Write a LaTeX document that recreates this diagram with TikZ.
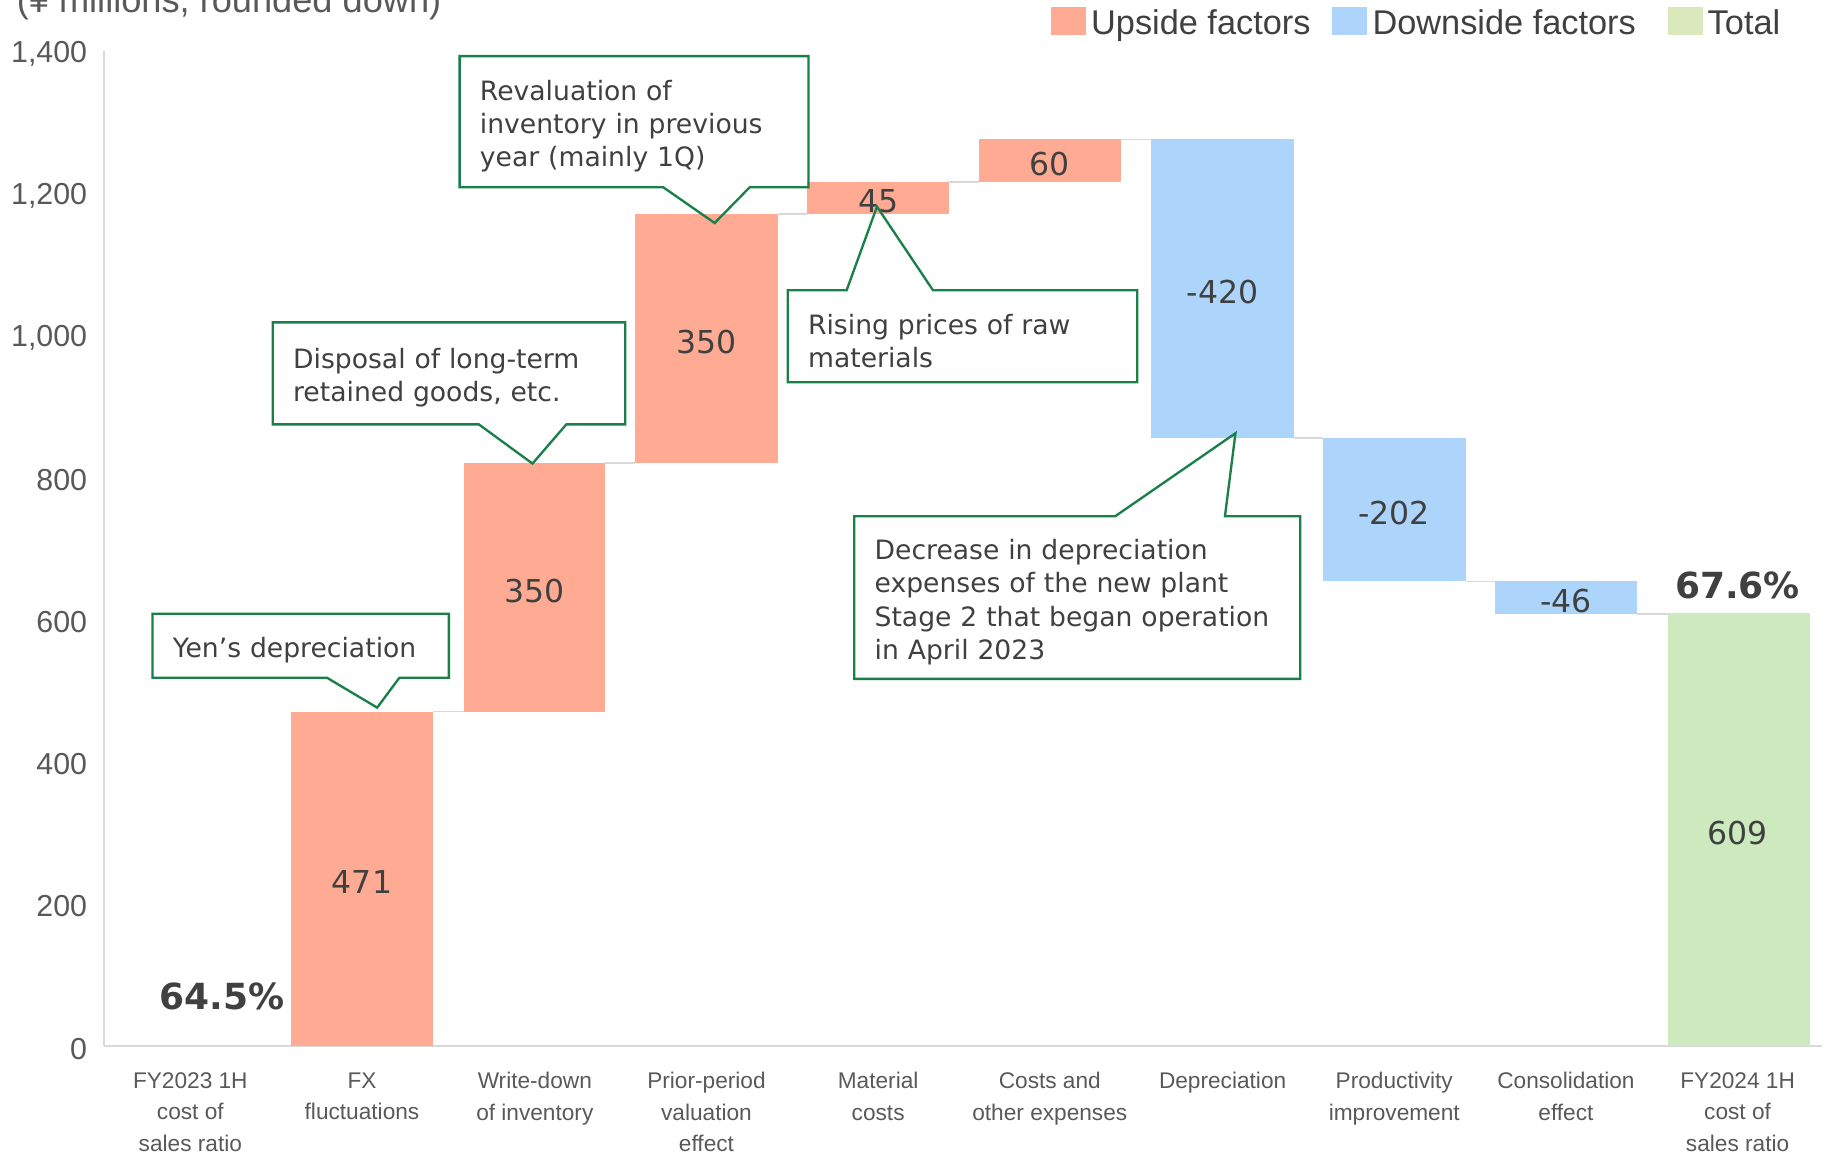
\documentclass[tikz,border=0pt]{standalone}
\usepackage{fontspec}
\setmainfont{DejaVu Sans}
\newfontfamily\chartsans{Liberation Sans}
\definecolor{upcol}{RGB}{255,171,148}
\definecolor{downcol}{RGB}{173,213,252}
\definecolor{totalcol}{RGB}{205,234,190}
\definecolor{totalkey}{RGB}{218,232,188}
\definecolor{callgreen}{RGB}{24,128,72}
\definecolor{axisgrey}{RGB}{217,217,217}
\definecolor{labgrey}{RGB}{89,89,89}
\definecolor{txtgrey}{RGB}{64,64,64}
\begin{document}
\begin{tikzpicture}[x=0.5pt,y=0.5pt,
    upbar/.style={fill=upcol},
    downbar/.style={fill=downcol},
    totalbar/.style={fill=totalcol},
    axisline/.style={draw=axisgrey, line width=0.8pt},
    stepline/.style={draw=axisgrey, line width=0.6pt},
    barval/.style={text=txtgrey, inner sep=0pt, yshift=-1.5pt, font=\fontsize{13.5}{16}\selectfont},
    pct/.style={text=txtgrey, inner sep=0pt, font=\fontsize{15.4}{18}\selectfont\bfseries},
    ticklabel/.style={anchor=east, text=labgrey, inner sep=0pt, yshift=-1pt, font=\chartsans\fontsize{13}{15}\selectfont},
    catlabel/.style={anchor=north, align=center, text=labgrey, inner sep=0pt, font=\chartsans\fontsize{9.7}{13.5}\selectfont},
    legtext/.style={anchor=base west, text=txtgrey, inner sep=0pt, font=\chartsans\fontsize{14.7}{17}\selectfont},
    callout/.style={text=txtgrey, align=left, inner xsep=8.5pt, inner ysep=0pt,
        execute at begin node={\rule{0pt}{12.5pt}}, font=\fontsize{11.4}{14.25}\selectfont},
    calloutline/.style={draw=callgreen, line width=1pt, line join=miter}]
\useasboundingbox (0,-95) rectangle (1568,896);

\begin{scope}[y=0.3043pt]
    \draw[axisline] (89,0) -- (89,1400);
    \draw[axisline] (89,0) -- (1560,0);
    \foreach \v/\t in {0/0,200/200,400/400,600/600,800/800,1000/{1,000},1200/{1,200},1400/{1,400}}
        \node[ticklabel] (tick\v) at (75,\v) {\t};

    \fill[upbar] (249,0) rectangle (371,471);
    \fill[upbar] (397,471) rectangle (518,821);
    \fill[upbar] (544,821) rectangle (666,1171);
    \fill[upbar] (691,1171) rectangle (813,1216);
    \fill[upbar] (838,1216) rectangle (960,1276);
    \fill[downbar] (986,856) rectangle (1108,1276);
    \fill[downbar] (1133,654) rectangle (1255,856);
    \fill[downbar] (1280,608) rectangle (1402,654);
    \fill[totalbar] (1428,0) rectangle (1550,609);

    \draw[stepline] (371,471) -- (397,471);
    \draw[stepline] (518,821) -- (544,821);
    \draw[stepline] (666,1171) -- (691,1171);
    \draw[stepline] (813,1216) -- (838,1216);
    \draw[stepline] (960,1276) -- (986,1276);
    \draw[stepline] (1108,856) -- (1133,856);
    \draw[stepline] (1255,654) -- (1280,654);
    \draw[stepline] (1402,608) -- (1428,608);

    \node[barval] (vfx) at (310,235.5) {471};
    \node[barval] (vwrite) at (458,646) {350};
    \node[barval] (vprior) at (605,996) {350};
    \node[barval] (vmat) at (752,1193.5) {45};
    \node[barval] (vcost) at (899,1246) {60};
    \node[barval] (vdep) at (1047,1066) {-420};
    \node[barval] (vprod) at (1194,755) {-202};
    \node[barval] (vcons) at (1341,631) {-46};
    \node[barval] (vtotal) at (1488,304.5) {609};
\end{scope}

\node[pct] (ratio23) at (190,43) {64.5\%};
\node[pct] (ratio24) at (1488,395) {67.6\%};

\node[catlabel] (cat0) at (163,-22) {FY2023 1H\\cost of\\sales ratio};
\node[catlabel] (cat1) at (310,-22) {FX\\fluctuations};
\node[catlabel] (cat2) at (458,-22) {Write-down\\of inventory};
\node[catlabel] (cat3) at (605,-22) {Prior-period\\valuation\\effect};
\node[catlabel] (cat4) at (752,-22) {Material\\costs};
\node[catlabel] (cat5) at (899,-22) {Costs and\\other expenses};
\node[catlabel] (cat6) at (1047,-22) {Depreciation};
\node[catlabel] (cat7) at (1194,-22) {Productivity\\improvement};
\node[catlabel] (cat8) at (1341,-22) {Consolidation\\effect};
\node[catlabel] (cat9) at (1488,-22) {FY2024 1H\\cost of\\sales ratio};

\node[legtext, text=labgrey, font=\chartsans\fontsize{15.5}{18}\selectfont] (unit) at (14,885) {(¥ millions, rounded down)};
\fill[upbar] (900,866) rectangle (930,890);
\node[legtext] (legup) at (934,866.5) {Upside factors};
\fill[downbar] (1141,866) rectangle (1171,890);
\node[legtext] (legdown) at (1175,866.5) {Downside factors};
\fill[totalkey] (1428,866) rectangle (1458,890);
\node[legtext] (legtotal) at (1462,866.5) {Total};

\coordinate (yentip) at (323,290);
\coordinate (distip) at (456,499);
\coordinate (revtip) at (612,705);
\coordinate (ristip) at (751,719);
\coordinate (dectip) at (1058,525);

\node[callout, text width=109.5pt, minimum height=27pt] (yen) at (257.5,343) {Yen’s depreciation};
\node[callout, text width=133.5pt, minimum height=43.25pt] (dis) at (384.5,576.25) {Disposal of long-term\\retained goods, etc.};
\node[callout, text width=132pt, minimum height=55.75pt] (rev) at (543,791.75) {Revaluation of\\inventory in previous\\year (mainly 1Q)};
\node[callout, text width=132.25pt, minimum height=39pt] (ris) at (824.25,608) {Rising prices of raw\\materials};
\node[callout, text width=173.5pt, minimum height=69.25pt] (dec) at (922.5,384.25) {Decrease in depreciation\\expenses of the new plant\\Stage 2 that began operation\\in April 2023};

\draw[calloutline] (yen.south west) -- (yen.north west) -- (yen.north east) -- (yen.south east)
    -- (342,0 |- yen.south) -- (yentip) -- (280,0 |- yen.south) -- cycle;
\draw[calloutline] (dis.south west) -- (dis.north west) -- (dis.north east) -- (dis.south east)
    -- (485,0 |- dis.south) -- (distip) -- (410,0 |- dis.south) -- cycle;
\draw[calloutline] (rev.south west) -- (rev.north west) -- (rev.north east) -- (rev.south east)
    -- (642,0 |- rev.south) -- (revtip) -- (568,0 |- rev.south) -- cycle;
\draw[calloutline] (ris.north west) -- (725,0 |- ris.north) -- (ristip) -- (799,0 |- ris.north)
    -- (ris.north east) -- (ris.south east) -- (ris.south west) -- cycle;
\draw[calloutline] (dec.north west) -- (955,0 |- dec.north) -- (dectip) -- (1049,0 |- dec.north)
    -- (dec.north east) -- (dec.south east) -- (dec.south west) -- cycle;
\end{tikzpicture}
\end{document}
